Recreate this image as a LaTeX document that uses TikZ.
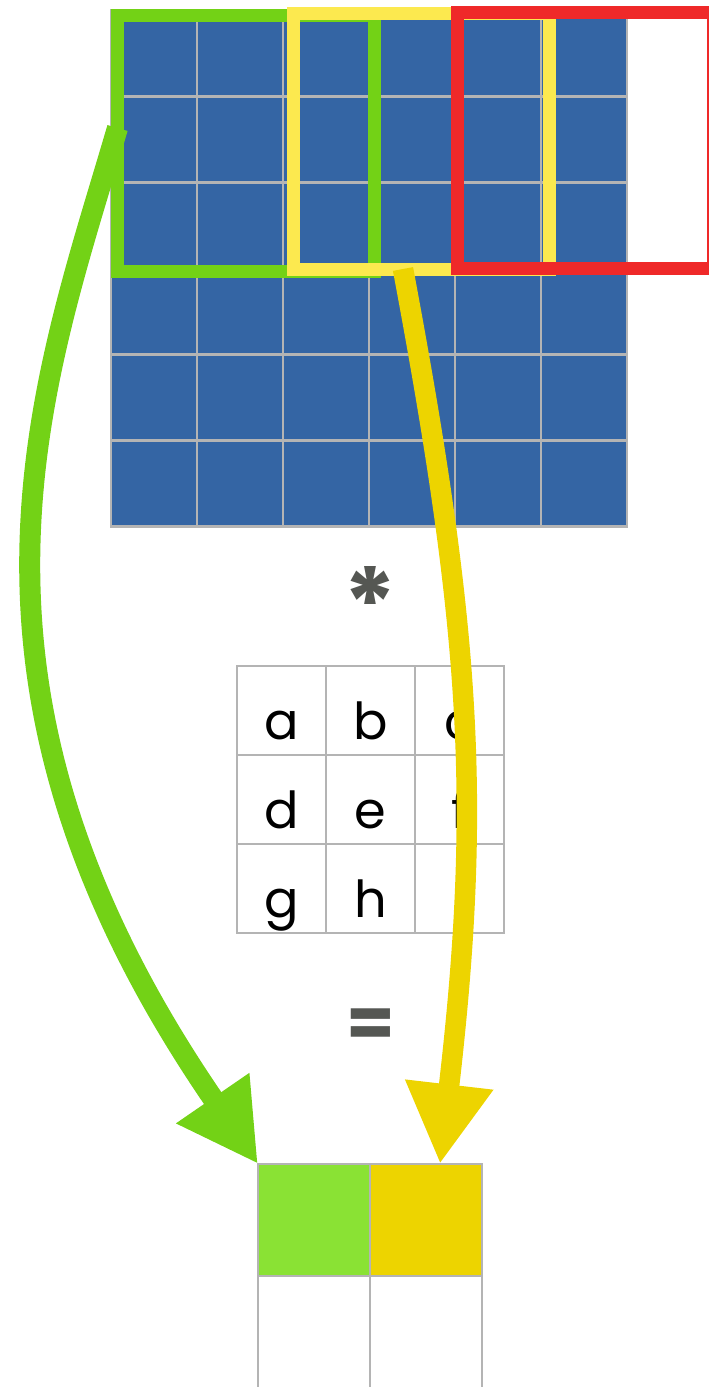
\documentclass[tikz,border=0pt]{standalone}
\usepackage{fontspec}
\setmainfont{Poppins}
\usetikzlibrary{arrows.meta}
\definecolor{cellblue}{HTML}{3465A4}
\definecolor{gridgray}{HTML}{B4B4B4}
\definecolor{frgreen}{HTML}{73D216}
\definecolor{fryellow}{HTML}{FCE94F}
\definecolor{frred}{HTML}{EF2929}
\definecolor{arryellow}{HTML}{EDD400}
\definecolor{outgreen}{HTML}{8AE234}
\definecolor{symgray}{HTML}{555753}
\tikzset{
  incell/.style={rectangle, inner sep=0, outer sep=0, minimum size=86, fill=cellblue, draw=gridgray, line width=2.2},
  kcell/.style={rectangle, inner sep=0, outer sep=0, minimum size=89, draw=gridgray, line width=2.4,
     text height=58, text depth=0, font=\fontsize{51}{60}\selectfont},
  ocell/.style={rectangle, inner sep=0, outer sep=0, minimum size=112, draw=gridgray, line width=2.6},
  frame/.style={rectangle, inner sep=0, outer sep=0, line width=13, minimum width=256, minimum height=256},
  bigarrow/.style={-{Triangle[length=80pt,width=83pt]}, line cap=butt},
  sym/.style={inner sep=0, outer sep=0, text=symgray}
}
\begin{document}
\begin{tikzpicture}[x=1pt,y=-1pt]
\useasboundingbox (0,0) rectangle (709,1387);
\clip (0,0) rectangle (709,1387);
% input 6x6 grid
\foreach \r in {0,...,5}{
  \foreach \c in {0,...,5}{
    \node[incell] (in-\r-\c) at ({111+43+86*\c},{10.5+43+86*\r}) {};
  }
}
% sliding frames
\node[frame, draw=frgreen, minimum width=257] (gframe) at (246,143.5) {};
\node[frame, draw=fryellow] (yframe) at (421.5,141) {};
\node[frame, draw=frred] (rframe) at (585.5,140.75) {};
% operator
\node[sym, anchor=north, font=\fontsize{100}{110}\bfseries\selectfont] (star) at (370,566) {*};
% kernel
\foreach \r/\row in {0/{a,b,c},1/{d,e,f},2/{g,h,i}}{
  \foreach \l [count=\c from 0] in \row {
    \node[kcell] (k-\r-\c) at ({236+45.5+89*\c},{666+44.5+89*\r}) {\l};
  }
}
\node[sym, anchor=north, font=\fontsize{70}{80}\bfseries\selectfont] (eq) at (371,1009) {=};
% output
\node[ocell, fill=outgreen] (o11) at (314,1220) {};
\node[ocell, fill=arryellow] (o12) at (426,1220) {};
\node[ocell] (o21) at (314,1332) {};
\node[ocell] (o22) at (426,1332) {};
% arrows
\draw[bigarrow, frgreen, line width=21] ([yshift=15.5pt]gframe.west) .. controls (43.5,381) and (-75,680) .. (o11.north west);
\draw[bigarrow, arryellow, line width=20.5] ([xshift=-18.5pt]yframe.south) .. controls (471,632) and (482,802) .. ([xshift=14pt]o12.north);
\end{tikzpicture}
\end{document}
